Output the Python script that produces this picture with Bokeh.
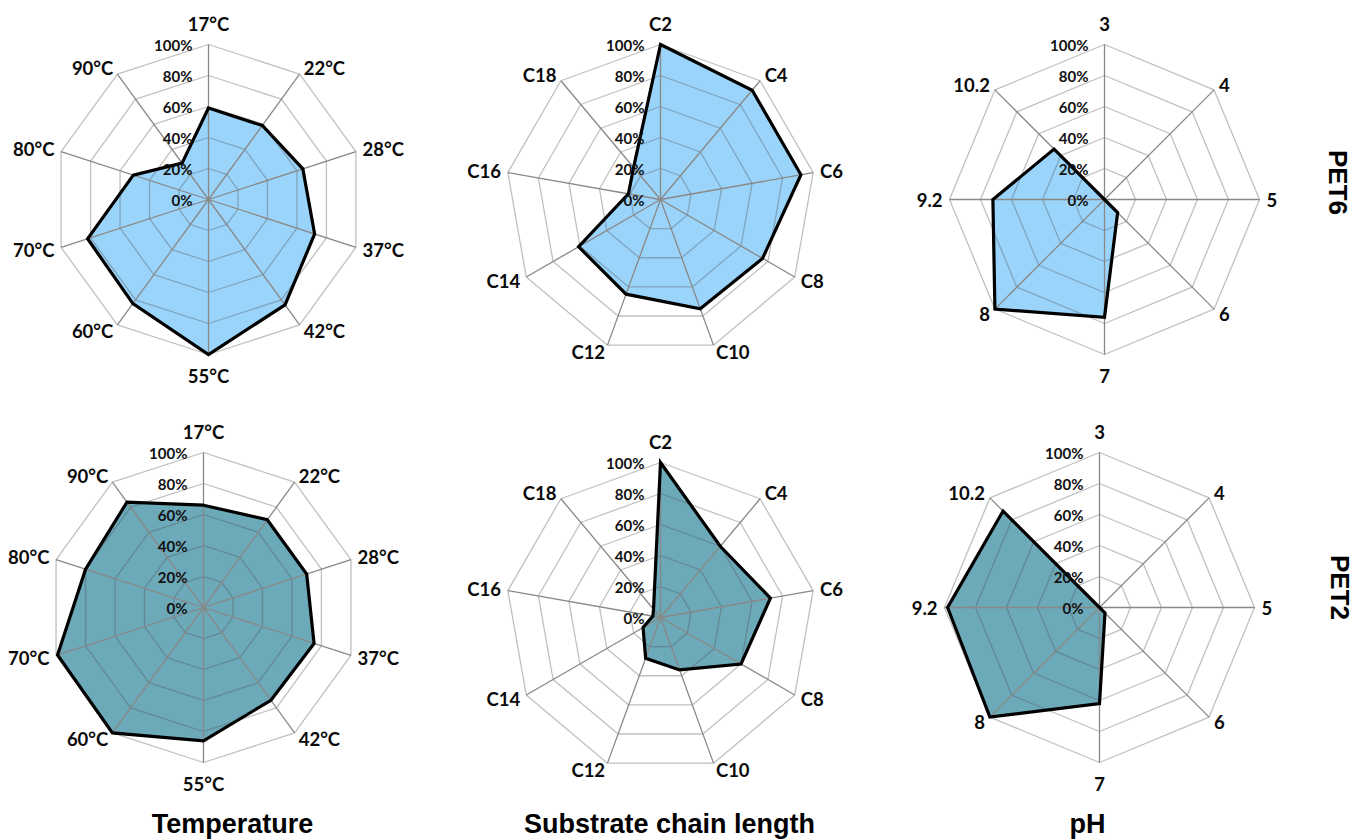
import math
from bokeh.plotting import figure
from bokeh.models import Range1d
from bokeh.core.properties import value
from bokeh.embed import file_html
from bokeh.resources import INLINE

# ---------------- data ----------------
temp_labels = ["17°C", "22°C", "28°C", "37°C", "42°C", "55°C", "60°C", "70°C", "80°C", "90°C"]
temp_pet6 = [59, 59, 64, 72, 84, 100, 83, 82, 51, 29]
temp_pet2 = [66, 70, 70, 75, 74, 86, 100, 99, 80, 84]

chain_labels = ["C2", "C4", "C6", "C8", "C10", "C12", "C14", "C16", "C18"]
chain_pet6 = [100, 92, 92, 76, 75, 65, 61, 21, 27]
chain_pet2 = [100, 60, 72, 60, 36, 28, 13, 5, 7]

ph_labels = ["3", "4", "5", "6", "7", "8", "9.2", "10.2"]
ph_pet6 = [0, 0, 0, 12, 76, 100, 72, 46]
ph_pet2 = [0, 0, 0, 5, 62, 100, 98, 88]

pct_ticks = [0, 20, 40, 60, 80, 100]
pct_labels = ["0%", "20%", "40%", "60%", "80%", "100%"]

column_titles = ["Temperature", "Substrate chain length", "pH"]
row_titles = ["PET6", "PET2"]

# ---------------- layout ----------------
W, H = 1355, 839
R = 155.0
COL_PET6 = "#9AD4FA"
COL_PET2 = "#6CA9B9"

panels = [
    (temp_labels, temp_pet6, 208, 199, COL_PET6),
    (chain_labels, chain_pet6, 660, 199, COL_PET6),
    (ph_labels, ph_pet6, 1104, 199, COL_PET6),
    (temp_labels, temp_pet2, 203, 607, COL_PET2),
    (chain_labels, chain_pet2, 660, 617, COL_PET2),
    (ph_labels, ph_pet2, 1099, 607, COL_PET2),
]

p = figure(width=W, height=H, x_range=Range1d(0, W), y_range=Range1d(0, H),
           output_backend="svg", toolbar_location=None, min_border=0,
           x_axis_type=None, y_axis_type=None)
p.grid.visible = False
p.outline_line_color = None
p.background_fill_color = "white"
p.border_fill_color = "white"

LBL_FONT = value("Lato")
TITLE_FONT = value("Liberation Sans")


def pt(cx, cy, frac, i, n, extra=0.0):
    a = 2 * math.pi * i / n
    r = R * frac + extra
    return cx + r * math.sin(a), cy + r * math.cos(a)


for labels, vals, cxi, cyi, col in panels:
    n = len(labels)
    cx, cy = cxi, H - cyi
    # data polygon
    px, py = [], []
    for i, v in enumerate(vals):
        x, y = pt(cx, cy, v / 100.0, i, n)
        px.append(x)
        py.append(y)
    p.patch(px, py, fill_color=col, line_color=None)

    # rings
    rxs, rys = [], []
    for t in pct_ticks[1:]:
        xs, ys = [], []
        for i in range(n):
            x, y = pt(cx, cy, t / 100.0, i, n)
            xs.append(x)
            ys.append(y)
        rxs.append(xs)
        rys.append(ys)
    p.patches(rxs, rys, fill_color=None, line_color="#505050", line_alpha=0.36, line_width=1.3)

    # spokes
    sx1, sy1 = [], []
    for i in range(n):
        x, y = pt(cx, cy, 1.0, i, n)
        sx1.append(x)
        sy1.append(y)
    p.segment(x0=[cx] * n, y0=[cy] * n, x1=sx1, y1=sy1, line_color="#8A8886", line_width=1.3)

    # outline
    p.patch(px, py, fill_color=None, line_color="black", line_width=3.2, line_join="miter")

    # percentage labels
    p.text(x=[cx - 16] * len(pct_ticks), y=[cy + R * t / 100.0 for t in pct_ticks],
           text=pct_labels, text_align="right", text_baseline="middle",
           text_font=LBL_FONT, text_font_style="bold", text_font_size="15px",
           text_color="#111111")

    # category labels
    groups = {}
    for i, lab in enumerate(labels):
        a = 2 * math.pi * i / n
        s = math.sin(a)
        if abs(s) < 0.1:
            x, y = pt(cx, cy, 1.0, i, n, extra=21)
            key = "center"
        else:
            x, y = pt(cx, cy, 1.0, i, n, extra=7)
            key = "left" if s > 0 else "right"
        groups.setdefault(key, ([], [], []))
        groups[key][0].append(x)
        groups[key][1].append(y)
        groups[key][2].append(lab)
    for key, (xs, ys, ts) in groups.items():
        p.text(x=xs, y=ys, text=ts, text_align=key, text_baseline="middle",
               text_font=LBL_FONT, text_font_style="bold", text_font_size="18.5px",
               text_color="#0A0A0A")

# column titles
p.text(x=[232, 669, 1087], y=[H - 823] * 3, text=column_titles,
       text_align="center", text_baseline="middle",
       text_font=TITLE_FONT, text_font_style="bold", text_font_size="27px",
       text_color="black")

# row titles (rotated clockwise)
p.text(x=[1337, 1339], y=[H - 182, H - 587], text=row_titles, angle=-math.pi / 2,
       text_align="center", text_baseline="middle",
       text_font=TITLE_FONT, text_font_style="bold", text_font_size="26px",
       text_color="black")

open("out.html", "w").write(file_html(p, INLINE))
